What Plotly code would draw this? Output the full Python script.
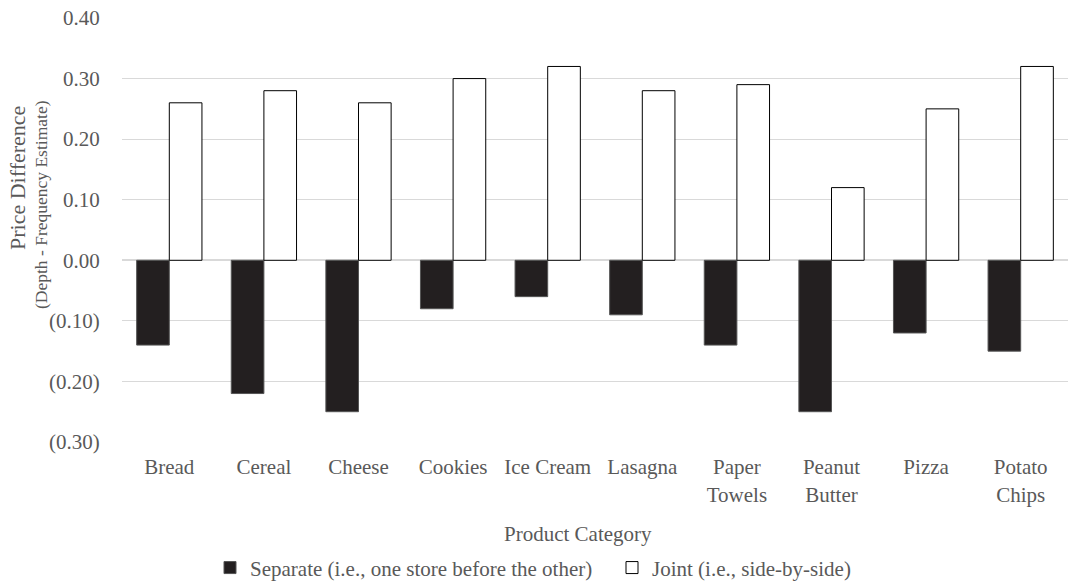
import plotly.graph_objects as go

categories = ["Bread", "Cereal", "Cheese", "Cookies", "Ice Cream", "Lasagna",
              "Paper<br>Towels", "Peanut<br>Butter", "Pizza", "Potato<br>Chips"]
separate = [-0.14, -0.22, -0.25, -0.08, -0.06, -0.09, -0.14, -0.25, -0.12, -0.15]
joint = [0.26, 0.28, 0.26, 0.30, 0.32, 0.28, 0.29, 0.12, 0.25, 0.32]

tick_vals = [0.40, 0.30, 0.20, 0.10, 0.00, -0.10, -0.20, -0.30]
tick_text = ["0.40", "0.30", "0.20", "0.10", "0.00", "(0.10)", "(0.20)", "(0.30)"]

FONT = "Liberation Serif, Times New Roman, serif"
GREY = "#595959"
FS = 21

fig = go.Figure()
fig.add_trace(go.Bar(
    x=categories, y=separate, name="Separate (i.e., one store before the other)",
    marker=dict(color="#231F20", line=dict(color="#555555", width=1)),
    legend="legend",
))
fig.add_trace(go.Bar(
    x=categories, y=joint, name="Joint (i.e., side-by-side)",
    marker=dict(color="#ffffff", line=dict(color="#000000", width=1)),
    legend="legend2",
))

legend_style = dict(orientation="h", yanchor="middle", y=-0.297, xanchor="left",
                    font=dict(family=FONT, size=FS, color=GREY), itemwidth=30,
                    bgcolor="rgba(0,0,0,0)", borderwidth=0)

fig.update_layout(
    width=1073, height=582,
    margin=dict(l=122, r=5, t=18, b=140, autoexpand=False),
    paper_bgcolor="white", plot_bgcolor="white",
    barmode="group", bargap=0.31, bargroupgap=0,
    font=dict(family=FONT, size=FS, color=GREY),
    showlegend=True,
    legend=dict(x=(210 - 122) / 946, **legend_style),
    legend2=dict(x=(612 - 122) / 946, **legend_style),
    xaxis=dict(showgrid=False, showline=False, ticks="outside", ticklen=6,
               tickcolor="rgba(0,0,0,0)",
               tickfont=dict(family=FONT, size=FS, color=GREY)),
    yaxis=dict(range=[-0.3, 0.4], tickvals=tick_vals, ticktext=tick_text,
               showgrid=True, gridcolor="#d9d9d9", gridwidth=1,
               zeroline=True, zerolinecolor="#d9d9d9", zerolinewidth=1.5,
               showline=False, ticks="outside", ticklen=17,
               tickcolor="rgba(0,0,0,0)",
               tickfont=dict(family=FONT, size=FS, color=GREY)),
)

# axis titles
fig.add_annotation(
    text="Product Category", xref="paper", yref="paper",
    x=(578 - 122) / 946, y=(442 - 534) / 424, xanchor="center", yanchor="middle",
    showarrow=False, font=dict(family=FONT, size=FS, color=GREY),
)
fig.add_annotation(
    text="Price Difference", xref="paper", yref="paper",
    x=0, y=(442 - 178) / 424, xanchor="center", yanchor="middle",
    xshift=17 - 122, textangle=-90, showarrow=False,
    font=dict(family=FONT, size=22, color=GREY),
)
fig.add_annotation(
    text="(Depth - Frequency Estimate)", xref="paper", yref="paper",
    x=0, y=(442 - 205) / 424, xanchor="center", yanchor="middle",
    xshift=41 - 122, textangle=-90, showarrow=False,
    font=dict(family=FONT, size=17.5, color=GREY),
)

fig.write_html("out.html")
